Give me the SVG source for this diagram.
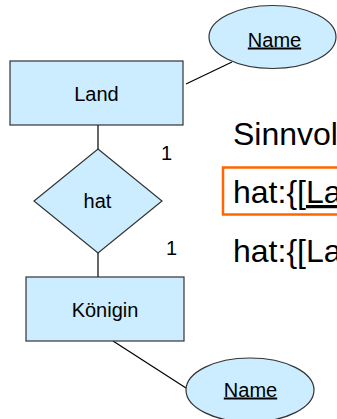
<svg xmlns="http://www.w3.org/2000/svg" width="337" height="419" viewBox="0 0 337 419">
<style>
.shape{fill:#CCECFF;stroke:#333333;stroke-width:1.2}
.lbl{font-family:"Liberation Sans",Arial,sans-serif;font-size:20px;fill:#000;text-anchor:middle}
.big{font-family:"Liberation Sans",Arial,sans-serif;font-size:32px;fill:#000}
.card{font-family:"Liberation Sans",Arial,sans-serif;font-size:20px;fill:#000}
.conn{stroke:#000;stroke-width:1.2;fill:none}
</style>
<rect width="337" height="419" fill="#FFFFFF"/>
<g id="connectors">
<line class="conn" x1="98" y1="125" x2="98" y2="149"/>
<line class="conn" x1="98" y1="253" x2="98" y2="277"/>
<line class="conn" x1="186" y1="84" x2="232" y2="62"/>
<line class="conn" x1="113" y1="341" x2="186" y2="388"/>
</g>
<g id="land">
<rect class="shape" x="10" y="61" width="173" height="64"/>
<text class="lbl" x="96.5" y="101">Land</text>
</g>
<g id="name-land">
<ellipse class="shape" cx="272.5" cy="37" rx="63.5" ry="31.5"/>
<text class="lbl" x="274.5" y="46.5" text-decoration="underline">Name</text>
</g>
<g id="hat">
<polygon class="shape" points="98,149 162,201 98,253 34,201"/>
<text class="lbl" x="97.5" y="208">hat</text>
</g>
<g id="koenigin">
<rect class="shape" x="26" y="277" width="158" height="64"/>
<text class="lbl" x="105" y="317">Königin</text>
</g>
<g id="name-koenigin">
<ellipse class="shape" cx="250" cy="390" rx="64" ry="32"/>
<text class="lbl" x="250.5" y="396.5" text-decoration="underline">Name</text>
</g>
<g id="cardinalities">
<text class="card" x="161" y="160">1</text>
<text class="card" x="166" y="255">1</text>
</g>
<g id="text-panel">
<text class="big" x="233" y="145">Sinnvol</text>
<rect x="223" y="167.5" width="200" height="47" fill="none" stroke="#FF6600" stroke-width="2.5"/>
<text class="big" x="233" y="203">hat:{[<tspan text-decoration="underline">La</tspan></text>
<text class="big" x="233" y="262">hat:{[La</text>
</g>
</svg>
